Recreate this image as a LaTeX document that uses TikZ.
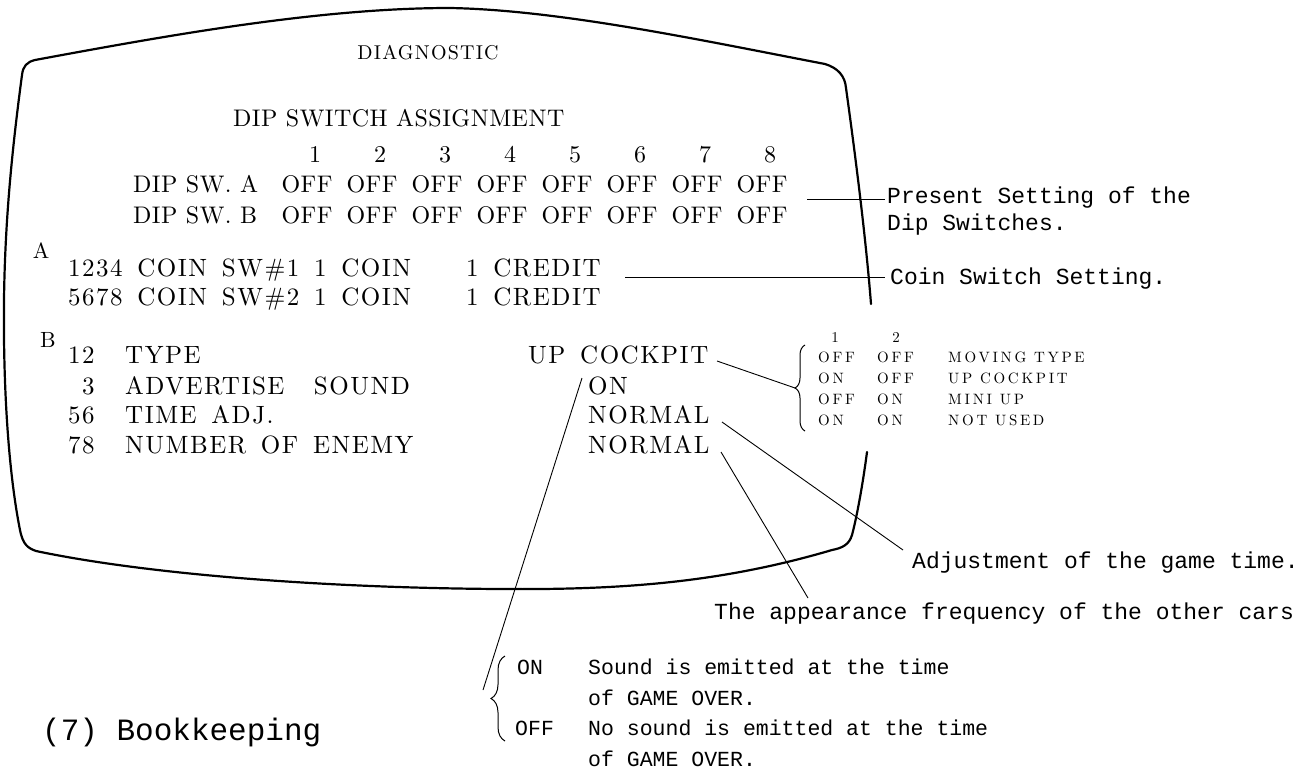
\documentclass[tikz,border=0pt]{standalone}
\usepackage{fontspec}
\setmainfont{Latin Modern Roman}
\newfontfamily\scrfont[LetterSpace=2]{lmroman10-regular.otf}
\newfontfamily\bigfont[LetterSpace=6,WordSpace=1.5]{lmroman10-regular.otf}
\newfontfamily\tabfont[LetterSpace=18]{lmroman10-regular.otf}
\newfontfamily\monofont{Liberation Mono}
\usetikzlibrary{decorations.pathreplacing}
\begin{document}
\begin{tikzpicture}[x=1pt,y=-1pt,
  scr/.style={inner sep=0pt, anchor=base west, font=\scrfont\fontsize{24}{28}\selectfont},
  scrc/.style={scr, anchor=base},
  big/.style={inner sep=0pt, anchor=base west, font=\bigfont\fontsize{25}{28}\selectfont},
  lbl/.style={inner sep=0pt, anchor=base, font=\scrfont\fontsize{22}{26}\selectfont},
  diag/.style={inner sep=0pt, anchor=base, font=\bigfont\fontsize{20}{24}\selectfont},
  tab/.style={inner sep=0pt, anchor=base west, font=\tabfont\fontsize{15}{18}\selectfont},
  tabc/.style={tab, anchor=base},
  note/.style={inner sep=0pt, anchor=base west, font=\monofont\fontsize{23}{26}\selectfont},
  notesm/.style={inner sep=0pt, anchor=base west, font=\monofont\fontsize{21.5}{26}\selectfont},
  title/.style={inner sep=0pt, anchor=base west, font=\monofont\fontsize{31}{34}\selectfont},
  screen/.style={line width=2.2pt, line cap=round, line join=round},
  lead/.style={line width=0.9pt},
  brc/.style={line width=1pt, decorate, decoration={brace, amplitude=#1}},
]
\useasboundingbox (0,0) rectangle (1298,769);

% screen outline
\draw[screen] (871,304) .. controls (866,240) and (856,160) .. (846,88)
  .. controls (845,76) and (838,68) .. (825,64)
  .. controls (700,40) and (560,10) .. (450,8)
  .. controls (320,8) and (170,35) .. (35,60)
  .. controls (27,62) and (23,66) .. (22,75)
  .. controls (12,150) and (5,220) .. (4,300)
  .. controls (3,400) and (10,480) .. (20,530)
  .. controls (23,545) and (28,548) .. (36,551)
  .. controls (150,575) and (330,588) .. (500,589)
  .. controls (620,590) and (720,583) .. (832,550)
  .. controls (842,548) and (849,545) .. (852,535)
  .. controls (856,520) and (862,490) .. (867,452);

% header
\node[diag] (diagn) at (428,59) {DIAGNOSTIC};
\node[scr] (dsa) at (233,126) {DIP SWITCH ASSIGNMENT};
\foreach \i in {1,...,8} {
  \node[scrc] (n\i) at ({315+65*(\i-1)},162) {\i};
  \node[scrc] (a\i) at ({307+65*(\i-1)},192) {OFF};
  \node[scrc] (b\i) at ({307+65*(\i-1)},223) {OFF};
}
\node[scr] (swa) at (133,192) {DIP SW. A};
\node[scr] (swb) at (133,223) {DIP SW. B};

% section A
\node[lbl] (la) at (41,258) {A};
\node[big] (c1) at (68,276) {1234 COIN SW\#1 1 COIN};
\node[big] (cr1) at (466,276) {1 CREDIT};
\node[big] (c2) at (68,305) {5678 COIN SW\#2 1 COIN};
\node[big] (cr2) at (466,305) {1 CREDIT};

% section B
\node[lbl] (lb) at (48,347) {B};
\node[big] (t12) at (68,363) {12};
\node[big] (ttype) at (125,363) {TYPE};
\node[big] (t3) at (82,394) {3};
\node[big] (tadv) at (125,394) {ADVERTISE\ \ SOUND};
\node[big] (t56) at (68,423) {56};
\node[big] (ttime) at (125,423) {TIME ADJ.};
\node[big] (t78) at (68,453) {78};
\node[big] (tnum) at (125,453) {NUMBER OF ENEMY};
\node[big] (upc) at (528,363) {UP COCKPIT};
\node[big] (von) at (588,394) {ON};
\node[big] (nor1) at (588,423) {NORMAL};
\node[big] (nor2) at (588,453) {NORMAL};

% type table
\node[tabc] (h1) at (835,342) {1};
\node[tabc] (h2) at (896,342) {2};
\node[tab] (r1a) at (818,362) {OFF};
\node[tab] (r1b) at (877,362) {OFF};
\node[tab] (r1c) at (948,362) {MOVING TYPE};
\node[tab] (r2a) at (818,383) {ON};
\node[tab] (r2b) at (877,383) {OFF};
\node[tab] (r2c) at (948,383) {UP COCKPIT};
\node[tab] (r3a) at (818,404) {OFF};
\node[tab] (r3b) at (877,404) {ON};
\node[tab] (r3c) at (948,404) {MINI UP};
\node[tab] (r4a) at (818,425) {ON};
\node[tab] (r4b) at (877,425) {ON};
\node[tab] (r4c) at (948,425) {NOT USED};
\coordinate (tbB) at (805,431);
\coordinate (tbT) at (805,345);
\draw[brc=10pt] (tbB) -- (tbT);

% annotations
\node[note] (ps1) at (887,203) {Present Setting of the};
\node[note] (ps2) at (887,230) {Dip Switches.};
\node[note] (css) at (890,284) {Coin Switch Setting.};
\node[note] (adj) at (912,568) {Adjustment of the game time.};
\node[note] (app) at (714,619) {The appearance frequency of the other cars};
\node[notesm] (bon) at (517,674) {ON};
\node[notesm] (snd1) at (588,674) {Sound is emitted at the time};
\node[notesm] (snd2) at (588,705) {of GAME OVER.};
\node[notesm] (boff) at (515,735) {OFF};
\node[notesm] (nsd1) at (588,735) {No sound is emitted at the time};
\node[notesm] (nsd2) at (588,766) {of GAME OVER.};
\node[title] (book) at (42,740) {(7) Bookkeeping};
\coordinate (bbB) at (505,741);
\coordinate (bbT) at (505,656);
\draw[brc=14pt] (bbB) -- (bbT);

% leader lines
\coordinate (pL) at (807,199);
\coordinate (pR) at (885,199);
\draw[lead] (pL) -- (pR);
\coordinate (cL) at (625,277);
\coordinate (cR) at (885,277);
\draw[lead] (cL) -- (cR);
\coordinate (upS) at (717,361);
\coordinate (upE) at (795,388);
\draw[lead] (upS) -- (upE);
\coordinate (onS) at (582,378);
\coordinate (onE) at (483,690);
\draw[lead] (onS) -- (onE);
\coordinate (n1S) at (722,422);
\coordinate (n1E) at (903,550);
\draw[lead] (n1S) -- (n1E);
\coordinate (n2S) at (721,452);
\coordinate (n2E) at (808,598);
\draw[lead] (n2S) -- (n2E);
\end{tikzpicture}
\end{document}
